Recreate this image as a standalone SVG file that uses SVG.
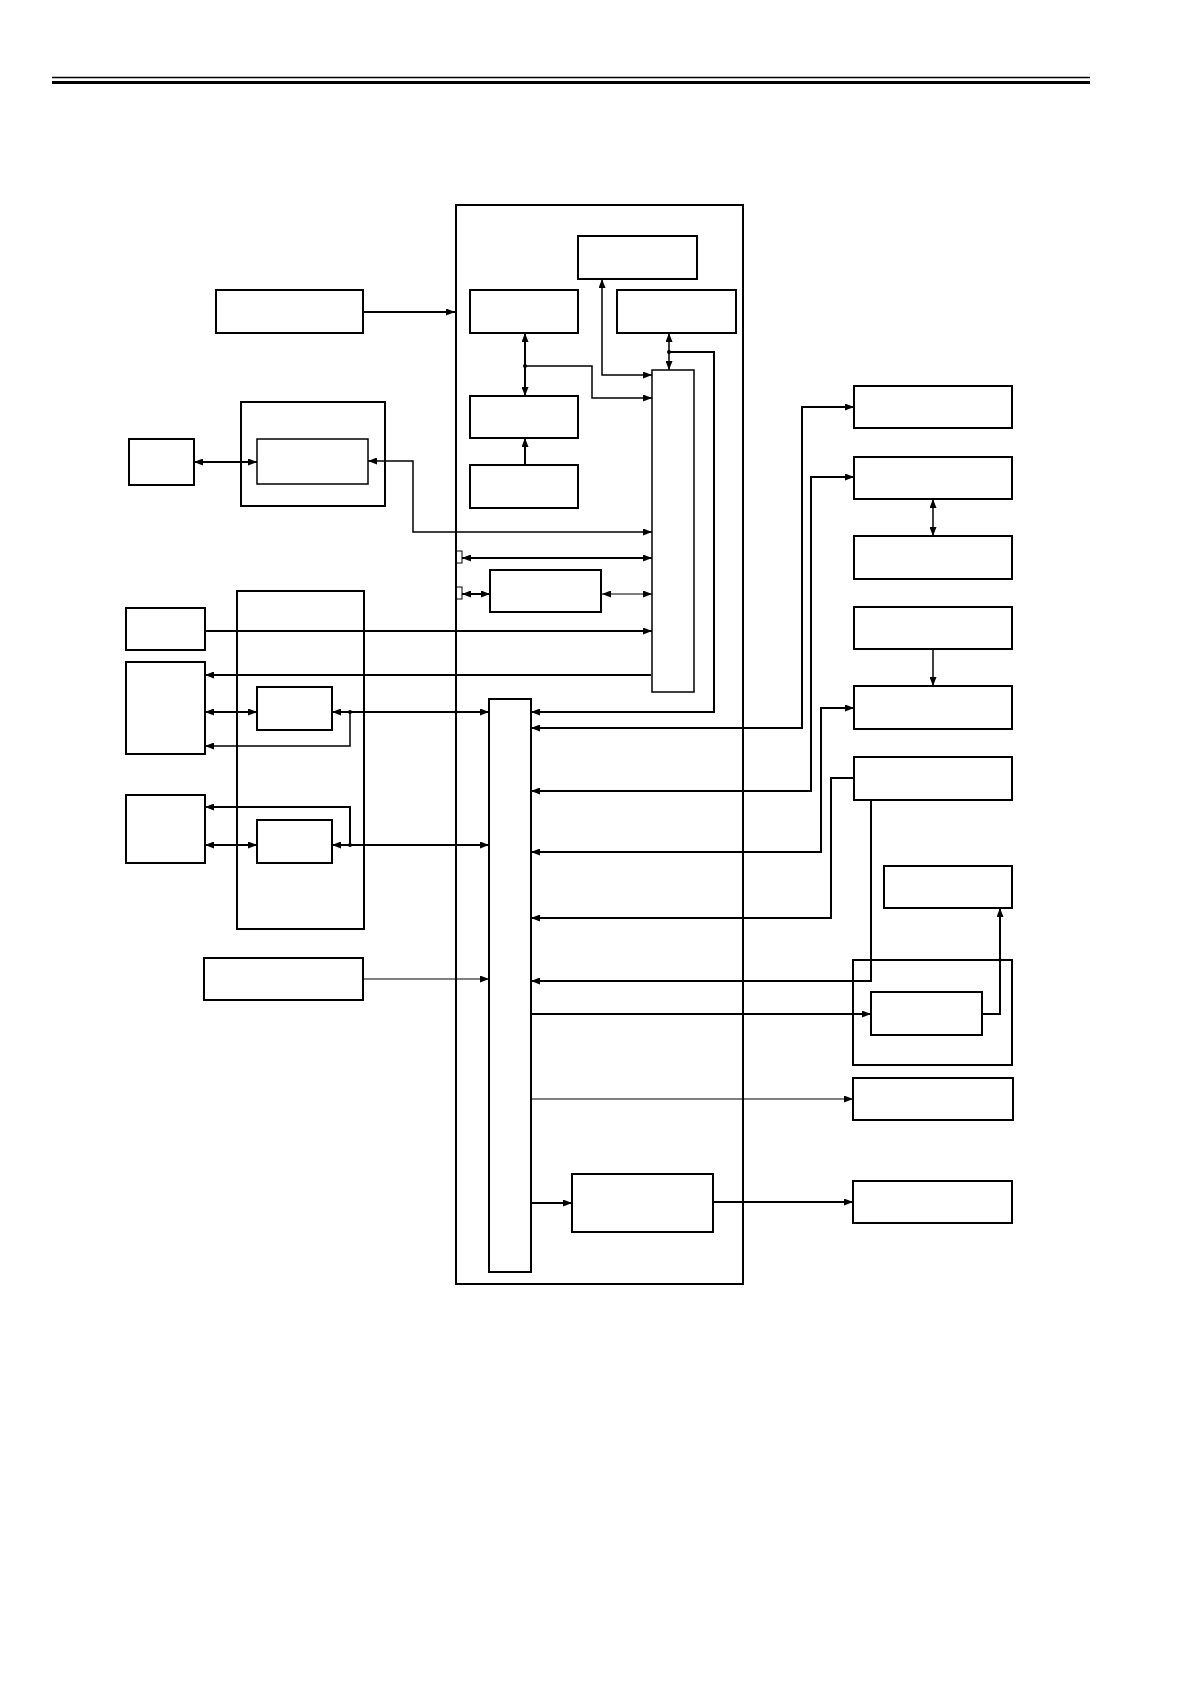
<svg xmlns="http://www.w3.org/2000/svg" width="1190" height="1684" viewBox="0 0 1190 1684">
<style>
.b{fill:#fff;stroke:#000;stroke-width:2}
.bt{fill:#fff;stroke:#000;stroke-width:1.5}
.c{fill:none;stroke:#000;stroke-width:2}
.cm{fill:none;stroke:#000;stroke-width:1.5}
.ct{fill:none;stroke:#000;stroke-width:1}
.e{marker-end:url(#ar)}
.s{marker-start:url(#ar)}
</style>
<defs>
<marker id="ar" viewBox="0 0 9 7" refX="9" refY="3.5" markerWidth="9" markerHeight="7" markerUnits="userSpaceOnUse" orient="auto-start-reverse">
<path d="M0,0 L9,3.5 L0,7 z" fill="#000"/>
</marker>
</defs>
<rect width="1190" height="1684" fill="#fff"/>
<g id="header">
<line x1="52" y1="77.5" x2="1090" y2="77.5" stroke="#000" stroke-width="1.3"/>
<line x1="52" y1="82.5" x2="1090" y2="82.5" stroke="#000" stroke-width="3"/>
</g>
<g id="main"><rect class="b" x="456" y="205" width="287" height="1079"/></g>
<g id="nodeA"><rect class="b" x="216" y="290" width="147" height="43"/></g>
<g id="nodeB"><rect class="b" x="241" y="402" width="144" height="104"/></g>
<g id="nodeB1"><rect class="bt" x="257" y="439" width="111" height="45"/></g>
<g id="nodeC"><rect class="b" x="129" y="439" width="65" height="46"/></g>
<g id="nodeD"><rect class="b" x="578" y="236" width="119" height="43"/></g>
<g id="nodeE"><rect class="b" x="470" y="290" width="108" height="43"/></g>
<g id="nodeF"><rect class="b" x="617" y="290" width="119" height="43"/></g>
<g id="nodeG"><rect class="b" x="470" y="396" width="108" height="42"/></g>
<g id="nodeH"><rect class="b" x="470" y="465" width="108" height="43"/></g>
<g id="cpu"><rect class="bt" x="652" y="370" width="42" height="322"/></g>
<g id="port1"><rect class="ct" x="456" y="551" width="6" height="12" fill="#fff"/></g>
<g id="port2"><rect class="ct" x="456" y="587" width="6" height="12" fill="#fff"/></g>
<g id="nodeI"><rect class="b" x="490" y="570" width="111" height="42"/></g>
<g id="nodeZ"><rect class="b" x="237" y="591" width="127" height="338"/></g>
<g id="nodeJ"><rect class="b" x="126" y="608" width="79" height="42"/></g>
<g id="nodeK"><rect class="b" x="126" y="662" width="79" height="92"/></g>
<g id="nodeK2"><rect class="b" x="126" y="795" width="79" height="68"/></g>
<g id="nodeA1"><rect class="b" x="257" y="687" width="75" height="43"/></g>
<g id="nodeA2"><rect class="b" x="257" y="820" width="75" height="43"/></g>
<g id="bus"><rect class="b" x="489" y="699" width="42" height="573"/></g>
<g id="nodeY"><rect class="b" x="204" y="958" width="159" height="42"/></g>
<g id="nodeW"><rect class="b" x="572" y="1174" width="141" height="58"/></g>
<g id="nodeM"><rect class="b" x="854" y="386" width="158" height="42"/></g>
<g id="nodeN"><rect class="b" x="854" y="457" width="158" height="42"/></g>
<g id="nodeO"><rect class="b" x="854" y="536" width="158" height="43"/></g>
<g id="nodeR"><rect class="b" x="854" y="607" width="158" height="42"/></g>
<g id="nodeP"><rect class="b" x="854" y="686" width="158" height="43"/></g>
<g id="nodeQ"><rect class="b" x="854" y="757" width="158" height="43"/></g>
<g id="nodeS"><rect class="b" x="884" y="866" width="128" height="42"/></g>
<g id="nodeU"><rect class="b" x="853" y="960" width="159" height="105"/></g>
<g id="nodeT"><rect class="b" x="871" y="992" width="111" height="43"/></g>
<g id="nodeV"><rect class="b" x="853" y="1078" width="160" height="42"/></g>
<g id="nodeX"><rect class="b" x="853" y="1181" width="159" height="42"/></g>
<g id="connectors">
<line class="c e" x1="363" y1="312" x2="455" y2="312"/>
<line class="c s e" x1="194" y1="462" x2="257" y2="462"/>
<polyline class="cm s e" points="652,532 413,532 413,461 368,461"/>
<line class="c s e" x1="525" y1="333" x2="525" y2="396"/>
<polyline class="cm e" points="525,366 592,366 592,398 652,398"/>
<circle cx="525" cy="366" r="2" fill="#000"/>
<line class="c e" x1="525" y1="465" x2="525" y2="438"/>
<polyline class="cm s e" points="602,279 602,375 652,375"/>
<line class="cm s e" x1="669" y1="333" x2="669" y2="370"/>
<circle cx="669" cy="352" r="2" fill="#000"/>
<polyline class="c e" points="669,352 714,352 714,712 531,712"/>
<line class="c s e" x1="462" y1="558" x2="652" y2="558"/>
<line class="c s e" x1="462" y1="594" x2="490" y2="594"/>
<line class="ct s e" x1="602" y1="594" x2="652" y2="594"/>
<line class="c e" x1="205" y1="631" x2="652" y2="631"/>
<line class="c e" x1="651" y1="675" x2="205" y2="675"/>
<line class="c s e" x1="205" y1="712" x2="257" y2="712"/>
<line class="c s e" x1="332" y1="712" x2="489" y2="712"/>
<circle cx="350" cy="712" r="2" fill="#000"/>
<polyline class="cm e" points="350,712 350,746 205,746"/>
<line class="c s e" x1="205" y1="845" x2="257" y2="845"/>
<line class="c s e" x1="332" y1="845" x2="489" y2="845"/>
<circle cx="350" cy="845" r="2" fill="#000"/>
<polyline class="c e" points="350,845 350,807 205,807"/>
<polyline class="c s e" points="531,728 802,728 802,407 854,407"/>
<polyline class="c s e" points="531,791 811,791 811,477 854,477"/>
<polyline class="c s e" points="531,852 821,852 821,708 854,708"/>
<polyline class="c s" points="531,918 831,918 831,778 854,778"/>
<polyline class="c s" points="531,981 871,981 871,800"/>
<line class="cm s e" x1="933" y1="499" x2="933" y2="536"/>
<line class="cm e" x1="933" y1="649" x2="933" y2="686"/>
<line class="ct e" x1="363" y1="979" x2="489" y2="979"/>
<line class="c e" x1="531" y1="1014" x2="871" y2="1014"/>
<polyline class="c e" points="982,1014 1000,1014 1000,908"/>
<line class="ct e" x1="531" y1="1099" x2="853" y2="1099"/>
<line class="c e" x1="531" y1="1203" x2="572" y2="1203"/>
<line class="c e" x1="713" y1="1202" x2="853" y2="1202"/>
</g>
</svg>
